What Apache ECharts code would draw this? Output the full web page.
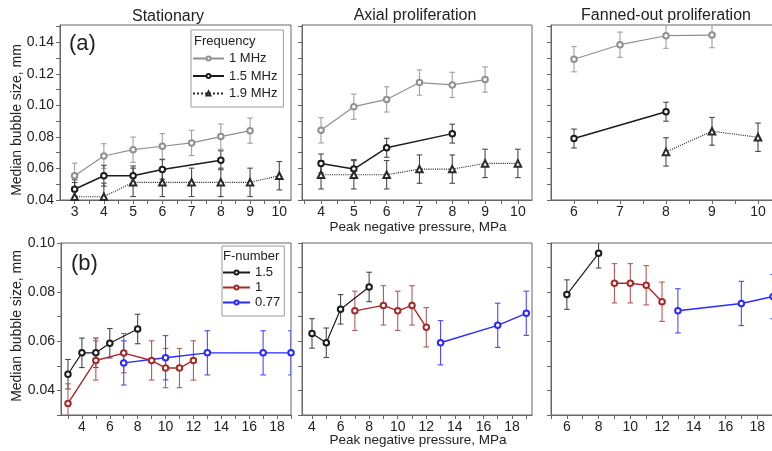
<!DOCTYPE html>
<html><head><meta charset="utf-8">
<script src="https://cdn.jsdelivr.net/npm/echarts@6/dist/echarts.min.js"></script>
<style>html,body{margin:0;padding:0;background:#fff}#c{width:772px;height:451px}</style>
</head><body><div id="c"></div>
<script>
// ---------- DATA: row (a), Frequency ----------
const statX_f1 = [3,4,5,6,7,8,9];
const statY_f1 = [0.0554,0.0679,0.0719,0.0741,0.0762,0.0802,0.0840];
const statE_f1 = [0.008,0.0078,0.008,0.008,0.008,0.008,0.008];
const statX_f15 = [3,4,5,6,8];
const statY_f15 = [0.0468,0.0554,0.0554,0.0594,0.0652];
const statE_f15 = [0.006,0.0066,0.0062,0.0062,0.006];
const statX_f19 = [3,4,5,6,7,8,9,10];
const statY_f19 = [0.0421,0.0421,0.0512,0.0512,0.0512,0.0512,0.0512,0.0554];
const statE_f19 = [0.009,0.0086,0.009,0.009,0.009,0.009,0.009,0.009];

const axX_f1 = [4,5,6,7,8,9];
const axY_f1 = [0.0842,0.0992,0.1038,0.1145,0.1130,0.1164];
const axE_f1 = [0.008,0.008,0.008,0.008,0.008,0.008];
const axX_f15 = [4,5,6,8];
const axY_f15 = [0.0632,0.0596,0.0731,0.0821];
const axE_f15 = [0.006,0.006,0.006,0.006];
const axX_f19 = [4,5,6,7,8,9,10];
const axY_f19 = [0.0560,0.0560,0.0560,0.0596,0.0596,0.0632,0.0632];
const axE_f19 = [0.009,0.009,0.009,0.009,0.009,0.009,0.009];

const fanX_f1 = [6,7,8,9];
const fanY_f1 = [0.1293,0.1385,0.1442,0.1446];
const fanE_f1 = [0.008,0.008,0.008,0.008];
const fanX_f15 = [6,8];
const fanY_f15 = [0.0790,0.0960];
const fanE_f15 = [0.006,0.006];
const fanX_f19 = [8,9,10];
const fanY_f19 = [0.0705,0.0836,0.0798];
const fanE_f19 = [0.009,0.0088,0.009];

// ---------- DATA: row (b), F-number ----------
const statX_n15 = [3,4,5,6,8];
const statY_n15 = [0.0466,0.0553,0.0553,0.0592,0.0650];
const statE_n15 = [0.006,0.006,0.006,0.006,0.006];
const statX_n1 = [3,5,7,9,10,11,12];
const statY_n1 = [0.0347,0.0522,0.0552,0.0522,0.0491,0.0491,0.0522];
const statE_n1 = [0.008,0.008,0.008,0.008,0.008,0.008,0.008];
const statX_n077 = [7,10,13,17,19];
const statY_n077 = [0.0512,0.0533,0.0553,0.0553,0.0553];
const statE_n077 = [0.009,0.009,0.009,0.009,0.009];

const axX_n15 = [4,5,6,8];
const axY_n15 = [0.0632,0.0594,0.0730,0.0821];
const axE_n15 = [0.006,0.006,0.006,0.006];
const axX_n1 = [7,9,10,11,12];
const axY_n1 = [0.0724,0.0746,0.0724,0.0746,0.0657];
const axE_n1 = [0.008,0.008,0.008,0.008,0.008];
const axX_n077 = [13,17,19];
const axY_n077 = [0.0594,0.0665,0.0714];
const axE_n077 = [0.009,0.009,0.009];

const fanX_n15 = [6,8];
const fanY_n15 = [0.0790,0.0958];
const fanE_n15 = [0.006,0.006];
const fanX_n1 = [9,10,11,12];
const fanY_n1 = [0.0836,0.0836,0.0828,0.0761];
const fanE_n1 = [0.008,0.008,0.008,0.008];
const fanX_n077 = [13,17,19];
const fanY_n077 = [0.0724,0.0754,0.0782];
const fanE_n077 = [0.009,0.009,0.009];

// ---------- TICK LABELS ----------
const topXLabels1 = [3,4,5,6,7,8,9,10];
const topXLabels2 = [4,5,6,7,8,9,10];
const topXLabels3 = [6,7,8,9,10];
const botXLabels = [4,6,8,10,12,14,16,18];
const botXLabels3 = [6,8,10,12,14,16,18];
const topYLabels = [0.04,0.06,0.08,0.10,0.12,0.14];
const botYLabels = [0.04,0.06,0.08,0.10];
const panelTitles = ['Stationary','Axial proliferation','Fanned-out proliferation'];
const freqNames = ['1 MHz','1.5 MHz','1.9 MHz'];
const fNumNames = ['1.5','1','0.77'];

// ---------- CHART ----------
const FONT = "'Liberation Sans', Arial, Helvetica, sans-serif";
const AX = '#666';
function steps(a, b, s) { const out = []; for (let v = a; v <= b + 1e-9; v += s) out.push(+v.toFixed(4)); return out; }

const grids = [
  {left:60, top:25, width:231, height:175},
  {left:302, top:25, width:230, height:175},
  {left:551, top:25, width:230, height:175},
  {left:61, top:243, width:230, height:172},
  {left:302, top:243, width:230, height:172},
  {left:551, top:243, width:230, height:172}
].map(g => Object.assign({show:true, borderColor:AX, borderWidth:1, backgroundColor:'transparent', containLabel:false, outerBoundsMode:'none'}, g));

function xAx(gi, min, max, ticks, labels) {
  return {type:'value', gridIndex:gi, min, max,
    axisLine:{show:true, lineStyle:{color:AX, width:1}},
    axisTick:{show:true, inside:false, length:4, customValues:ticks, lineStyle:{color:AX}},
    axisLabel:{show:true, customValues:labels, margin:5, fontSize:14, color:'#222', fontFamily:FONT, formatter:v=>String(v)},
    splitLine:{show:false}};
}
function yAx(gi, min, max, ticks, labels) {
  return {type:'value', gridIndex:gi, min, max,
    axisLine:{show:true, lineStyle:{color:AX, width:1}},
    axisTick:{show:true, inside:false, length:4, customValues:ticks, lineStyle:{color:AX}},
    axisLabel: labels ? {show:true, customValues:labels, margin:6, fontSize:14, color:'#222', fontFamily:FONT, formatter:v=>v.toFixed(2)} : {show:false},
    splitLine:{show:false}};
}

const xAxis = [
  xAx(0, 2.5, 10.4, steps(3,10,0.5), topXLabels1),
  xAx(1, 3.42, 10.43, steps(3.5,10,0.5), topXLabels2),
  xAx(2, 5.5, 10.5, steps(6,10.5,0.5), topXLabels3),
  xAx(3, 2.5, 19, steps(3,19,1), botXLabels),
  xAx(4, 3.3, 19.4, steps(4,19,1), botXLabels),
  xAx(5, 5, 19.5, steps(5,19,1), botXLabels3)
];
const yAxis = [
  yAx(0, 0.04, 0.151, steps(0.04,0.15,0.01), topYLabels),
  yAx(1, 0.04, 0.151, steps(0.04,0.15,0.01), null),
  yAx(2, 0.04, 0.151, steps(0.04,0.15,0.01), null),
  yAx(3, 0.03, 0.10, steps(0.03,0.10,0.01), botYLabels),
  yAx(4, 0.03, 0.10, steps(0.03,0.10,0.01), null),
  yAx(5, 0.03, 0.10, steps(0.03,0.10,0.01), null)
];

const STY = {
  '1 MHz':  {color:'#909090', err:'#a0a0a0', symbol:'emptyCircle', size:5.5, width:1.2, type:'solid'},
  '1.5 MHz':{color:'#1c1c1c', err:'#4a4a4a', symbol:'emptyCircle', size:5.5, width:1.5, type:'solid'},
  '1.9 MHz':{color:'#2a2a2a', err:'#4a4a4a', symbol:'emptyTriangle', size:6.5, width:1.1, type:'dotted'},
  '1.5':    {color:'#1c1c1c', err:'#4a4a4a', symbol:'emptyCircle', size:5.5, width:1.2, type:'solid'},
  '1':      {color:'#a52a2a', err:'#b35a5a', symbol:'emptyCircle', size:5.5, width:1.4, type:'solid'},
  '0.77':   {color:'#2a2aff', err:'#4a4aff', symbol:'emptyCircle', size:5.5, width:1.4, type:'solid'}
};

const series = [];
function addGroup(gi, name, xs, ys, es) {
  const s = STY[name];
  series.push({
    type:'custom', name: name + ' error', xAxisIndex:gi, yAxisIndex:gi, z:2, clip:true, silent:true,
    data: xs.map((x,i)=>[x, ys[i], es[i]]),
    encode:{x:0, y:1},
    renderItem:(params, api) => {
      const x = api.value(0), y = api.value(1), e = api.value(2);
      const t = api.coord([x, y + e]), b = api.coord([x, y - e]);
      const w = 2.8, st = {stroke:s.err, lineWidth:1.1};
      return {type:'group', children:[
        {type:'line', shape:{x1:t[0], y1:t[1], x2:b[0], y2:b[1]}, style:st},
        {type:'line', shape:{x1:t[0]-w, y1:t[1], x2:t[0]+w, y2:t[1]}, style:st},
        {type:'line', shape:{x1:b[0]-w, y1:b[1], x2:b[0]+w, y2:b[1]}, style:st}
      ]};
    }
  });
  series.push({
    type:'line', name, xAxisIndex:gi, yAxisIndex:gi, z:3,
    data: xs.map((x,i)=>[x, ys[i]]),
    symbol:s.symbol, symbolSize:s.size, showAllSymbol:true,
    lineStyle:{color:s.color, width:s.width, type:s.type},
    itemStyle:{color:s.color, borderColor:s.color, borderWidth:1.1},
    emphasis:{disabled:true}
  });
}
addGroup(0,'1 MHz',statX_f1,statY_f1,statE_f1);
addGroup(0,'1.5 MHz',statX_f15,statY_f15,statE_f15);
addGroup(0,'1.9 MHz',statX_f19,statY_f19,statE_f19);
addGroup(1,'1 MHz',axX_f1,axY_f1,axE_f1);
addGroup(1,'1.5 MHz',axX_f15,axY_f15,axE_f15);
addGroup(1,'1.9 MHz',axX_f19,axY_f19,axE_f19);
addGroup(2,'1 MHz',fanX_f1,fanY_f1,fanE_f1);
addGroup(2,'1.5 MHz',fanX_f15,fanY_f15,fanE_f15);
addGroup(2,'1.9 MHz',fanX_f19,fanY_f19,fanE_f19);
addGroup(3,'1.5',statX_n15,statY_n15,statE_n15);
addGroup(3,'1',statX_n1,statY_n1,statE_n1);
addGroup(3,'0.77',statX_n077,statY_n077,statE_n077);
addGroup(4,'1.5',axX_n15,axY_n15,axE_n15);
addGroup(4,'1',axX_n1,axY_n1,axE_n1);
addGroup(4,'0.77',axX_n077,axY_n077,axE_n077);
addGroup(5,'1.5',fanX_n15,fanY_n15,fanE_n15);
addGroup(5,'1',fanX_n1,fanY_n1,fanE_n1);
addGroup(5,'0.77',fanX_n077,fanY_n077,fanE_n077);

const txt = (x, y, text, size, align, extra) => Object.assign({type:'text', x, y, z:10, silent:true,
  style:{text, fontSize:size, fontFamily:FONT, fill:'#222', align, verticalAlign:'middle'}}, extra||{});

const graphic = [
  txt(168, 17, panelTitles[0], 16, 'center'),
  txt(415, 16, panelTitles[1], 16, 'center'),
  txt(666, 16, panelTitles[2], 16, 'center'),
  txt(69, 44, '(a)', 22, 'left'),
  txt(71, 264, '(b)', 22, 'left'),
  txt(418, 227, 'Peak negative pressure, MPa', 13.5, 'center'),
  txt(418, 440, 'Peak negative pressure, MPa', 13.5, 'center'),
  txt(17, 120, 'Median bubble size, mm', 14, 'center', {rotation:Math.PI/2}),
  txt(17, 326, 'Median bubble size, mm', 14, 'center', {rotation:Math.PI/2}),
  txt(194, 41, 'Frequency', 13, 'left'),
  txt(223, 256, 'F-number', 13, 'left')
];

const legendBase = {orient:'vertical', selectedMode:false, borderColor:'#9a9a9a', borderWidth:1, backgroundColor:'#fff',
  textStyle:{fontSize:13, lineHeight:13, fontFamily:FONT, color:'#222'}, itemHeight:5};

const option = {
  animation:false,
  backgroundColor:'#fff',
  grid: grids,
  xAxis, yAxis, series, graphic,
  legend:[
    Object.assign({}, legendBase, {data:freqNames, left:191, top:30, padding:[22,6,7,1], itemGap:4.5, itemWidth:31}),
    Object.assign({}, legendBase, {data:fNumNames, left:222, top:246, padding:[20,4,7,0], itemGap:2, itemWidth:27})
  ]
};
const chart = echarts.init(document.getElementById('c'), null, {renderer:'canvas'});
chart.setOption(option);
</script></body></html>
